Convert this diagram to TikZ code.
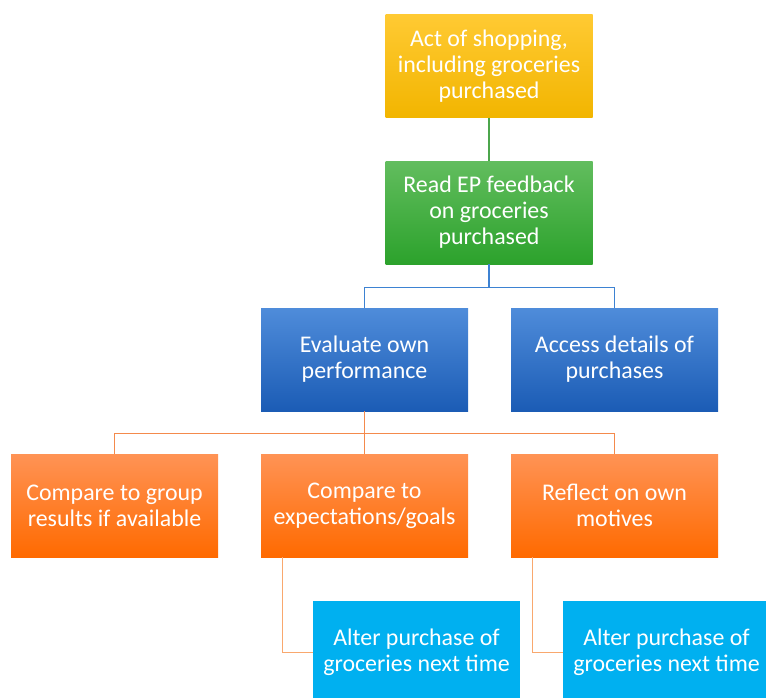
\documentclass[tikz,border=0pt]{standalone}
\usepackage{fontspec}
\setmainfont{Carlito}
\usetikzlibrary{positioning}
\definecolor{yellowtop}{HTML}{FFCA33}
\definecolor{yellowbot}{HTML}{F2B500}
\definecolor{greentop}{HTML}{62BD5E}
\definecolor{greenbot}{HTML}{2CA22C}
\definecolor{bluetop}{HTML}{4F8CDA}
\definecolor{bluebot}{HTML}{1B5CB5}
\definecolor{orangetop}{HTML}{FF9355}
\definecolor{orangebot}{HTML}{FF6A00}
\definecolor{cyanbox}{HTML}{00B0F0}
\definecolor{greenline}{HTML}{4CA64C}
\definecolor{blueline}{HTML}{3D82D2}
\definecolor{orangeline}{HTML}{F48A4C}
\definecolor{paleline}{HTML}{F9A86E}
\tikzset{
  box/.style={minimum width=207*0.02cm, minimum height=103*0.02cm,
    inner sep=0pt, align=center, text=white,
    font=\fontsize{13.6}{14.8}\selectfont},
  shopbox/.style={box, top color=yellowtop, bottom color=yellowbot},
  readbox/.style={box, top color=greentop, bottom color=greenbot},
  evalbox/.style={box, top color=bluetop, bottom color=bluebot},
  comparebox/.style={box, top color=orangetop, bottom color=orangebot},
  alterbox/.style={box, fill=cyanbox},
  link/.style={line width=0.9pt}
}
\begin{document}
\begin{tikzpicture}[x=0.02cm, y=-0.02cm]
\useasboundingbox (0,0) rectangle (766,697);

% boxes
\node[shopbox] (shop) at (489,66) {Act of shopping,\\including groceries\\purchased};
\node[readbox] (read) at (489,212.5) {Read EP feedback\\on groceries\\purchased};
\node[evalbox] (eval) at (364.5,359.5) {Evaluate own\\performance};
\node[evalbox] (access) at (614.5,359.5) {Access details of\\purchases};
\node[comparebox] (group) at (114.5,505.5) {Compare to group\\results if available};
\node[comparebox] (goals) at (364.5,505.5) {Compare to\\expectations/goals};
\node[comparebox] (motives) at (614.5,505.5) {Reflect on own\\motives};
\node[alterbox] (alterA) at (416.5,652.5) {Alter purchase of\\groceries next time};
\node[alterbox] (alterB) at (666.5,652.5) {Alter purchase of\\groceries next time};

% connectors
\draw[link, greenline] (shop.south) -- (read.north);
\draw[link, blueline] (read.south) -- ++(0,23) -| (eval.north);
\draw[link, blueline] (read.south) -- ++(0,23) -| (access.north);
\draw[link, orangeline] (eval.south) -- ++(0,22) -| (group.north);
\draw[link, orangeline] (eval.south) -- ++(0,22) -| (goals.north);
\draw[link, orangeline] (eval.south) -- ++(0,22) -| (motives.north);
\draw[link, paleline] ([xshift=22*0.02cm]goals.south west) |- (alterA.west);
\draw[link, paleline] ([xshift=22*0.02cm]motives.south west) |- (alterB.west);

\end{tikzpicture}
\end{document}
